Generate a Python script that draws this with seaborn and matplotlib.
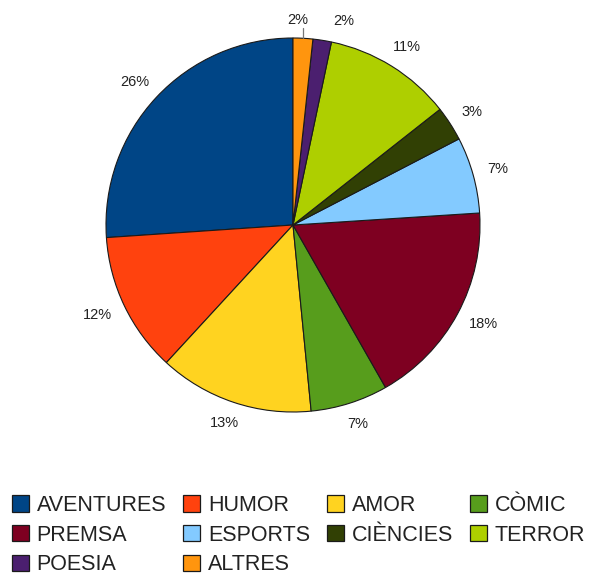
import numpy as np
import matplotlib
matplotlib.use('Agg')
import matplotlib.pyplot as plt
from matplotlib.patches import Patch
import seaborn as sns

sns.set_style('white')
plt.rcParams['font.family'] = ['Liberation Sans', 'DejaVu Sans']

categories = ['AVENTURES', 'HUMOR', 'AMOR', 'CÒMIC', 'PREMSA',
              'ESPORTS', 'CIÈNCIES', 'TERROR', 'POESIA', 'ALTRES']
values = [26.1, 12.1, 13.4, 6.7, 17.8, 6.6, 3.0, 11.1, 1.6, 1.7]
colors = ['#004586', '#ff420e', '#ffd320', '#579d1c', '#7e0021',
          '#83caff', '#314004', '#aecf00', '#4b1f6f', '#ff950e']

W, H = 594, 578
fig = plt.figure(figsize=(W / 100, H / 100), dpi=100)
cx, cy, r = 293, 225, 187
ax = fig.add_axes([(cx - r) / W, (H - cy - r) / H, 2 * r / W, 2 * r / H])

wedges, _ = ax.pie(values, colors=colors, startangle=90, counterclock=True,
                   wedgeprops=dict(edgecolor='#1a1a1a', linewidth=0.8))
ax.set_xlim(-1, 1)
ax.set_ylim(-1, 1)
ax.axis('off')

total = sum(values)
fig.canvas.draw()
renderer = fig.canvas.get_renderer()
# small label shifts (pixels) to keep the two tiny slices' labels apart
nudge = {'POESIA': (18, -2), 'ALTRES': (-7, -4)}
for w, cat, v in zip(wedges, categories, values):
    ang = np.deg2rad((w.theta1 + w.theta2) / 2)
    lab = '%d%%' % round(v / total * 100)
    t = ax.text(0, 0, lab, fontsize=10.5, color='#222222', ha='center', va='center')
    bb = t.get_window_extent(renderer)
    t.remove()
    rr = 1.08
    dx, dy = nudge.get(cat, (0, 0))
    px = rr * np.cos(ang) * r + bb.width / 2 * np.cos(ang) + dx
    py = rr * np.sin(ang) * r + bb.height / 2 * np.sin(ang) + dy
    ax.annotate(lab, xy=(0, 0), xytext=(px, py), textcoords='offset pixels',
                fontsize=10.5, color='#222222', ha='center', va='center',
                annotation_clip=False)
    if cat == 'ALTRES':
        ax.plot([np.cos(ang), np.cos(ang)], [np.sin(ang), 1.055],
                color='#777777', lw=0.9, clip_on=False)

handles = [Patch(facecolor=c, edgecolor='#1a1a1a', linewidth=0.9) for c in colors]
order = [0, 4, 8, 1, 5, 9, 2, 6, 3, 7]
fig.legend([handles[i] for i in order], [categories[i] for i in order],
           loc='upper left', bbox_to_anchor=(12 / W, 1 - 495 / H), ncol=4,
           frameon=False, fontsize=15.5, handlelength=0.78, handleheight=0.78,
           handletextpad=0.36, columnspacing=0.8, labelspacing=0.4,
           borderpad=0, borderaxespad=0, labelcolor='#222222')

fig.savefig('out.png', dpi=100)
